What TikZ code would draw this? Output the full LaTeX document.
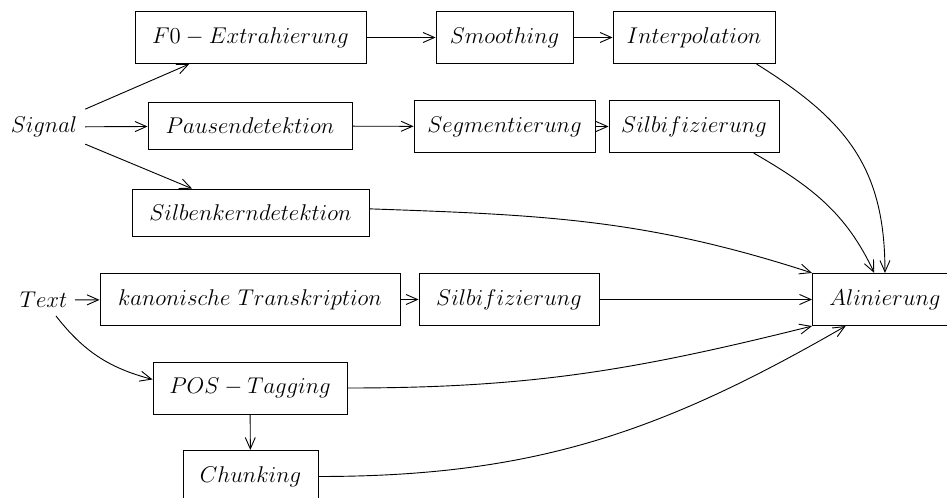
\documentclass[tikz,border=0pt]{standalone}
\usetikzlibrary{arrows.meta}
\begin{document}
\begin{tikzpicture}[x=0.5263pt,y=-0.5263pt,
  every node/.style={font=\fontsize{12}{14}\selectfont},
  box/.style={draw, rectangle, inner xsep=2pt, inner ysep=8.4pt,
    minimum width=#1*0.5263pt},
  lbl/.style={inner sep=4pt},
  arr/.style={-{Straight Barb[length=6pt,width=5.3pt]}, line width=0.48pt},
  every path/.style={line width=0.48pt},
]
\useasboundingbox (0,0) rectangle (947,498);

% inputs
\node[lbl] (sig) at (44,127) {$Signal$};
\node[lbl] (txt) at (43.5,300) {$Text$};

% signal branch
\node[box=231] (f0)   at (250.5,37.5)  {$F0-Extrahierung$};
\node[box=137] (smo)  at (504.5,37.5)  {$Smoothing$};
\node[box=162] (ipol) at (694,37.5)    {$Interpolation$};
\node[box=204] (paus) at (250,126)     {$Pausendetektion$};
\node[box=181] (seg)  at (504.5,126.5) {$Segmentierung$};
\node[box=170] (silA) at (694,126.5)   {$Silbifizierung$};
\node[box=237] (kern) at (250.5,213)   {$Silbenkerndetektion$};

% text branch
\node[box=300] (kan)  at (250,299.5)   {$kanonische\ Transkription$};
\node[box=180] (silB) at (509,299.5)   {$Silbifizierung$};
\node[box=194] (pos)  at (250,388)     {$POS-Tagging$};
\node[box=135] (chk)  at (250.5,476.5) {$Chunking$};

% target
\node[box=145, anchor=west] (alin) at (812,299.5) {$Alinierung$};

% straight connectors
\draw[arr] (sig) -- (f0);
\draw[arr] (sig) -- (paus);
\draw[arr] (sig) -- (kern);
\draw[arr] (f0) -- (smo);
\draw[arr] (smo) -- (ipol);
\draw[arr] (paus) -- (seg);
\draw[arr] (seg) -- (silA);
\draw[arr] (txt) -- (kan);
\draw[arr] (kan) -- (silB);
\draw[arr] (silB) -- (alin);
\draw[arr] (pos) -- (chk);

% curved connectors into the alignment
\draw[arr] (ipol.-23) to[out=-32, in=90, looseness=1.1] (alin.north);
\draw[arr] (silA.-24) to[out=-30, in=115] (alin.112);
\draw[arr] (kern.2) to[out=-2, in=162] (alin.north west);
\draw[arr] (pos.east) to[out=0, in=-166] (alin.south west);
\draw[arr] (chk.east) to[out=0, in=-150] (alin.-146);
\draw[arr] (txt) to[out=-52, in=165] (pos.175);
\end{tikzpicture}
\end{document}
